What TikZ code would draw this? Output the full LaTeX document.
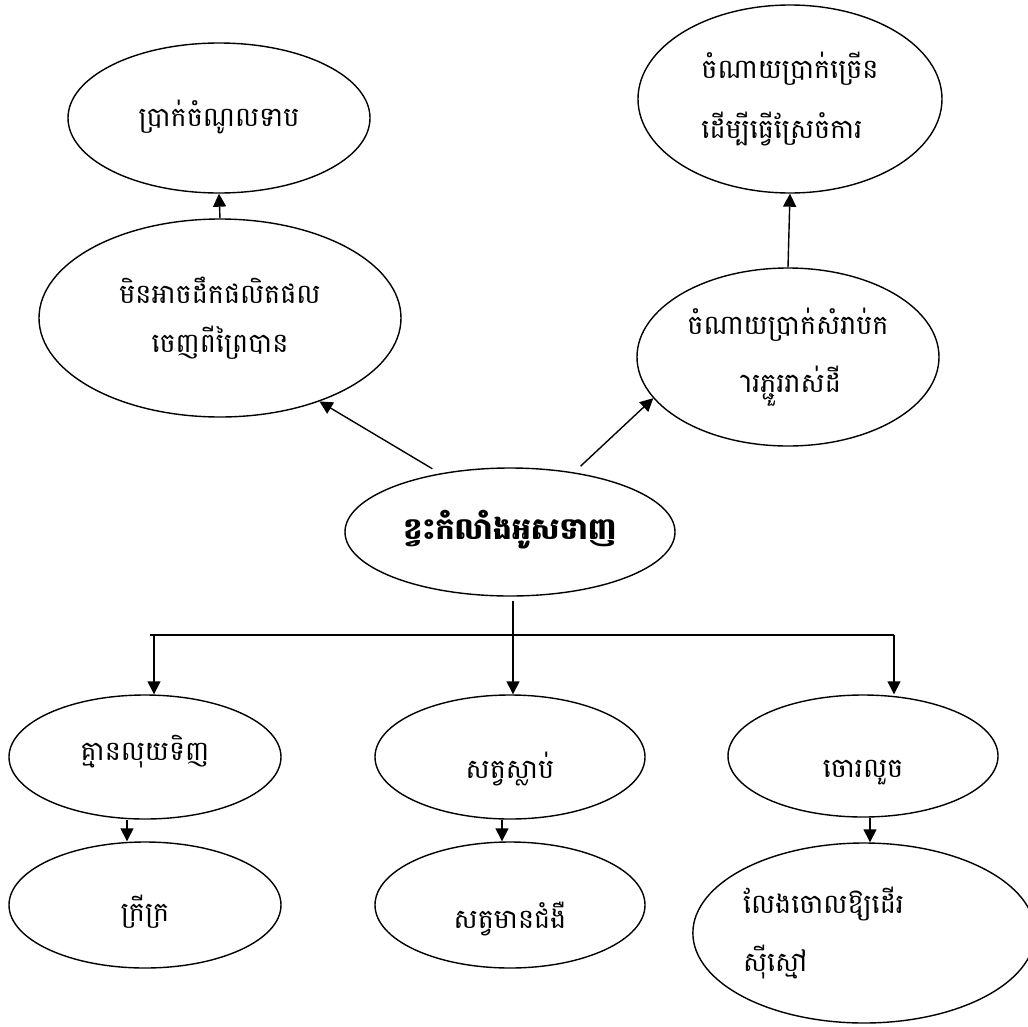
\documentclass[tikz,border=0pt]{standalone}
\usepackage{fontspec}
\newfontfamily\khm[Script=Khmer]{Battambang}
\usetikzlibrary{shapes.geometric,arrows.meta,calc}
\tikzset{
	bubble/.style={draw, ellipse, line width=1.4pt, inner sep=0pt, align=center, font=\khm\fontsize{27}{58}\selectfont},
	lift/.style={text height=#1, text depth=0pt},
	arr/.style={-{Triangle[length=13pt,width=13pt]}, line width=1.4pt}
}
\begin{document}
\begin{tikzpicture}[x=1pt, y=-1pt]
	\useasboundingbox (0,0) rectangle (1028,1026);
	\node[bubble, lift=16pt, minimum width=302pt, minimum height=150pt] (income) at (219,118) {ប្រាក់ចំណូលទាប};
	\node[bubble, minimum width=304pt, minimum height=188pt, align=left] (spend) at (790,99) {ចំណាយប្រាក់ច្រើន\\[2pt]ដើម្បីធ្វើស្រែចំការ};
	\node[bubble, minimum width=362pt, minimum height=198pt] (prod) at (220,318) {មិនអាចដឹកផលិតផល\\[-9pt]ចេញពីព្រៃបាន};
	\node[bubble, minimum width=302pt, minimum height=178pt] (rent) at (788,357) {ចំណាយប្រាក់សំរាប់ក\\^^^^00a0ារភ្ជួររាស់ដី};
	\node[bubble, lift=14pt, minimum width=330pt, minimum height=128pt, font=\khm\bfseries\fontsize{30}{58}\selectfont] (hub) at (510,532) {ខ្វះកំលាំងអូសទាញ};

	\node[bubble, lift=6pt, minimum width=272pt, minimum height=124pt] (nomoney) at (145,757) {គ្មានលុយទិញ};
	\node[bubble, lift=32pt, minimum width=272pt, minimum height=126pt] (poor) at (145,905) {ក្រីក្រ};
	\node[bubble, lift=42pt, minimum width=270pt, minimum height=124pt] (dead) at (510,757) {សត្វស្លាប់};
	\node[bubble, lift=46pt, minimum width=270pt, minimum height=126pt] (sick) at (510,905) {សត្វមានជំងឺ};
	\node[bubble, lift=42pt, minimum width=270pt, minimum height=122pt] (thief) at (863,756) {ចោរលួច};
	\node[bubble, minimum width=326pt, minimum height=180pt, text width=242pt, align=left] (loose) at (864,933) {\rule{0pt}{22pt}លែងចោលឱ្យដើរ\\ស៊ីស្មៅ};

	\draw[arr] (prod.north) -- (income.south);
	\draw[arr] (rent.north) -- (spend.south);
	\draw[arr, shorten <=9pt] (hub.140) -- (prod.320);
	\draw[arr, shorten <=9pt] (hub.43) -- (rent.197);

	\coordinate (bl) at (154,635);
	\coordinate (br) at (894,635);
	\draw[line width=1.4pt] ($(bl)+(-4,0)$) -- (br);
	\draw[arr] (hub.south) ++(3,4) -- ($(dead.north)+(3,0)$);
	\draw[arr] (bl) -- (bl |- nomoney.north);
	\draw[arr] (br) -- (br |- thief.north);

	\draw[arr] ($(nomoney.south)+(-18,0)$) -- ($(poor.north)+(-18,0)$);
	\draw[arr] ($(dead.south)+(-8,0)$) -- ($(sick.north)+(-8,0)$);
	\draw[arr] ($(thief.south)+(7,0)$) -- ($(loose.north)+(6,0)$);
\end{tikzpicture}
\end{document}
